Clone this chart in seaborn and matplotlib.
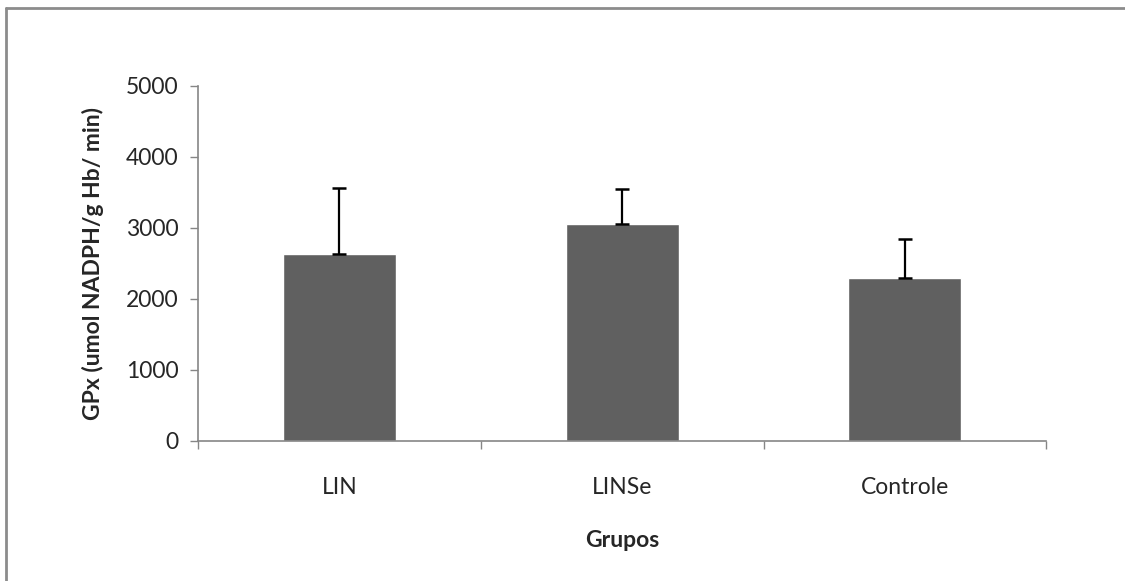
"""
GPx activity by group - bar chart with upper error bars (Excel style).
"""

import matplotlib
matplotlib.use("Agg")
import matplotlib.pyplot as plt
import matplotlib.lines as mlines
import seaborn as sns
import pandas as pd
import numpy as np

# Data
groups = ["LIN", "LINSe", "Controle"]
gpx_mean = [2635, 3055, 2295]
gpx_err = [925, 495, 550]
y_ticks = [0, 1000, 2000, 3000, 4000, 5000]

BAR_COLOR = "#606060"
AXIS_COLOR = "#868686"
FONT = ["Lato", "DejaVu Sans"]

df = pd.DataFrame({"grupo": groups, "gpx": gpx_mean})

sns.set_style("white")
plt.rcParams["font.family"] = FONT

fig = plt.figure(figsize=(11.25, 5.81), dpi=100)
ax = fig.add_axes([0.176, 0.241, 0.754, 0.611])

sns.barplot(data=df, x="grupo", y="gpx", color=BAR_COLOR, saturation=1,
            width=0.4, errorbar=None, ax=ax)

# plus-only error bars, caps at both ends like the original
x_pos = np.arange(len(groups))
ax.errorbar(x_pos, gpx_mean, yerr=[np.zeros(len(groups)), gpx_err],
            fmt="none", ecolor="black", elinewidth=1.6, capsize=4.8,
            capthick=1.8)

ax.set_ylim(0, 5000)
ax.set_xlim(-0.5, len(groups) - 0.5)
ax.set_yticks(y_ticks)
ax.set_yticklabels([str(v) for v in y_ticks])

# category boundary ticks on the x axis
ax.set_xticks(np.arange(-0.5, len(groups), 1.0), minor=True)
ax.tick_params(axis="x", which="major", length=0, pad=26, labelsize=16.5)
ax.tick_params(axis="x", which="minor", length=6, width=1, color=AXIS_COLOR,
               direction="out", bottom=True)
ax.tick_params(axis="y", length=6, width=1, color=AXIS_COLOR, direction="out",
               left=True, pad=8, labelsize=16.5)

for side in ["top", "right"]:
    ax.spines[side].set_visible(False)
for side in ["left", "bottom"]:
    ax.spines[side].set_color(AXIS_COLOR)
    ax.spines[side].set_linewidth(1.2)

ax.set_xlabel("Grupos", fontsize=16.5, fontweight="bold", labelpad=23)
ax.set_ylabel("GPx (umol NADPH/g Hb/ min)", fontsize=16.5, fontweight="bold",
              labelpad=16)

# grey frame of the chart area (only top and left show in the crop)
fig.add_artist(mlines.Line2D([0.0055, 1.0], [1 - 8 / 581, 1 - 8 / 581],
                             transform=fig.transFigure, color="#8c8c8c",
                             linewidth=2))
fig.add_artist(mlines.Line2D([0.0055, 0.0055], [0.0, 1 - 8 / 581],
                             transform=fig.transFigure, color="#8c8c8c",
                             linewidth=2))

fig.savefig("out.png", dpi=100)
